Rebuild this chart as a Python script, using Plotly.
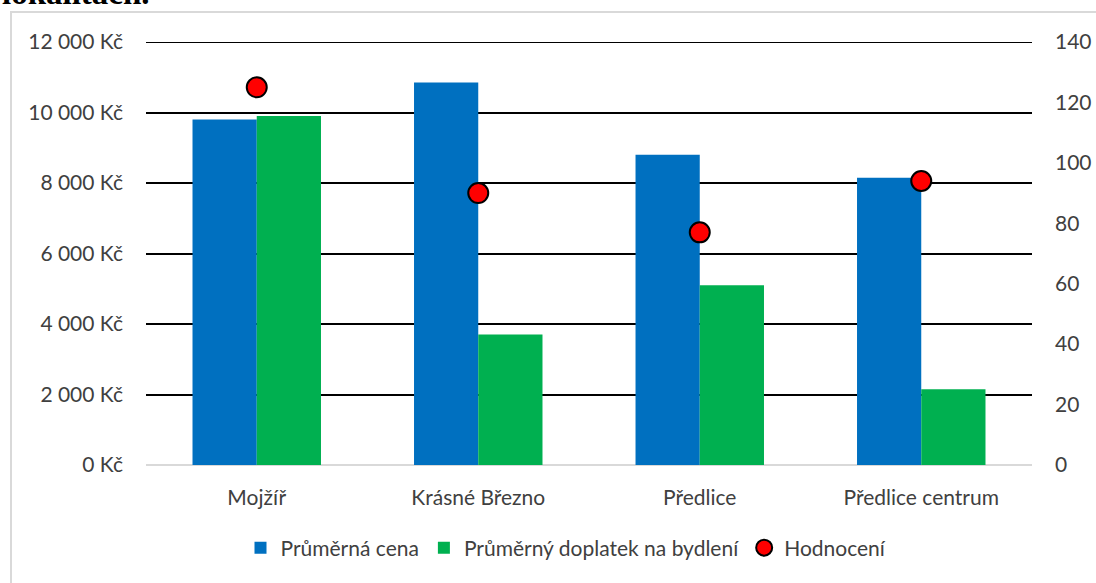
import plotly.graph_objects as go

categories = ["Mojžíř", "Krásné Březno", "Předlice", "Předlice centrum"]
prumerna_cena = [9800, 10850, 8800, 8150]
prumerny_doplatek = [9900, 3700, 5100, 2150]
hodnoceni = [125, 90, 77, 94]

left_ticks = [0, 2000, 4000, 6000, 8000, 10000, 12000]
left_labels = ["0 Kč", "2 000 Kč", "4 000 Kč", "6 000 Kč", "8 000 Kč", "10 000 Kč", "12 000 Kč"]
right_ticks = [0, 20, 40, 60, 80, 100, 120, 140]

FONT = "Lato"
TXT = "#404040"
FS = 21

fig = go.Figure()
fig.add_trace(go.Bar(name="Průměrná cena", x=categories, y=prumerna_cena,
                     marker=dict(color="#0070C0", line=dict(width=0))))
fig.add_trace(go.Bar(name="Průměrný doplatek na bydlení", x=categories, y=prumerny_doplatek,
                     marker=dict(color="#00B050", line=dict(width=0))))
fig.add_trace(go.Scatter(name="Hodnocení", x=categories, y=hodnoceni, yaxis="y2",
                         mode="markers",
                         marker=dict(color="#FF0000", size=20, line=dict(color="black", width=2))))

W, H = 1096, 583
L, R, T, B = 146, 64, 42, 118
pw, ph = W - L - R, H - T - B

def px(x):
    return (x - L) / pw

def py(y):
    return (H - B - y) / ph

fig.update_layout(
    width=W, height=H,
    margin=dict(l=L, r=R, t=T, b=B, autoexpand=False),
    paper_bgcolor="white", plot_bgcolor="white",
    barmode="group", bargap=0.42, bargroupgap=0,
    font=dict(family=FONT, size=FS, color=TXT),
    showlegend=True,
    legend=dict(orientation="h", x=px(566), xanchor="center", y=py(548), yanchor="middle",
                font=dict(family=FONT, size=FS, color=TXT), itemwidth=30,
                traceorder="normal"),
    xaxis=dict(showgrid=False, showline=False, ticks="", ticklabelstandoff=18, automargin=False,
               tickfont=dict(family=FONT, size=FS, color=TXT)),
    yaxis=dict(range=[0, 12000], tickvals=left_ticks, ticktext=left_labels,
               showgrid=True, gridcolor="black", gridwidth=2, automargin=False,
               zeroline=True, zerolinecolor="#d9d9d9", zerolinewidth=2,
               showline=False, ticks="", ticklabelstandoff=22,
               tickfont=dict(family=FONT, size=FS, color=TXT)),
    yaxis2=dict(range=[0, 140], tickvals=right_ticks, overlaying="y", side="right",
                showgrid=False, zeroline=False, showline=False, ticks="", automargin=False,
                ticklabelstandoff=22,
                tickfont=dict(family=FONT, size=FS, color=TXT)),
    shapes=[dict(type="rect", xref="paper", yref="paper",
                 x0=px(11), x1=px(1100), y0=py(600), y1=py(12),
                 line=dict(color="#d9d9d9", width=2), fillcolor="rgba(0,0,0,0)", layer="below"),
            dict(type="line", xref="paper", yref="y", x0=0, x1=1,
                 y0=left_ticks[-1], y1=left_ticks[-1],
                 line=dict(color="black", width=2), layer="below")],
    annotations=[dict(text="<b>lokalitách.</b>", xref="paper", yref="paper",
                      x=px(0), xanchor="left", y=py(13), yanchor="bottom",
                      showarrow=False, font=dict(family="Liberation Serif", size=33, color="black"))],
)

fig.write_html("out.html")
